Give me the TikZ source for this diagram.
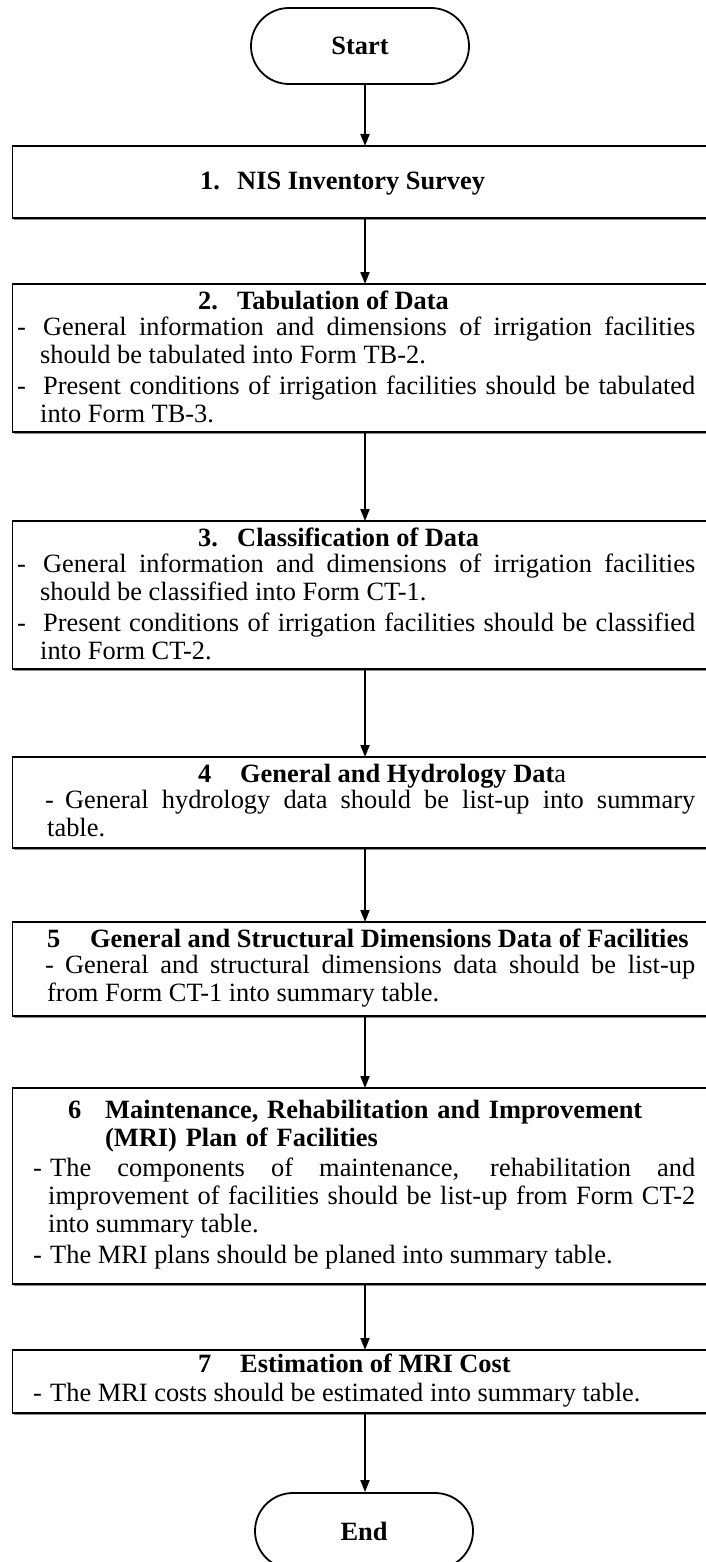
\documentclass[tikz,border=0pt]{standalone}
\usepackage{fontspec}
\setmainfont{Liberation Serif}
\usetikzlibrary{arrows.meta,shapes.misc,shadows}
\newcommand\dashpar[3]{\noindent\hangindent=#3\hangafter=1\hspace*{#1}\makebox[#2][l]{-}}
\begin{document}
\begin{tikzpicture}[x=1pt,y=-1pt,
  every node/.style={font=\fontsize{26.4pt}{28pt}\selectfont},
  stepbox/.style={draw,line width=1.8pt,rectangle,minimum width=712pt,inner sep=0pt,outer sep=0pt,anchor=north west,fill=white,
    drop shadow={shadow xshift=1.2pt,shadow yshift=-2.2pt,fill=black!45,opacity=1}},
  term/.style={draw,line width=1.8pt,rounded rectangle,minimum width=218pt,minimum height=76pt,inner sep=0pt,
    font=\fontsize{26.4pt}{28pt}\selectfont\bfseries},
  ttl/.style={anchor=base west,inner sep=0pt,font=\fontsize{26.4pt}{28pt}\selectfont\bfseries},
  body/.style={anchor=base west,inner sep=0pt,text width=678pt,align=justify,
    execute at begin node={\hyphenpenalty=10000\exhyphenpenalty=10000\tolerance=9999\parskip=3pt}},
  arr/.style={line width=1.8pt,-{Triangle[length=12pt,width=9pt]}}]
\useasboundingbox (0,0) rectangle (705,1562);
\coordinate (cx) at (365,0);

% boxes
\node[term] (start) at (360,46) {Start};
\node[stepbox,minimum height=72pt]  (b1) at (12.5,146) {};
\node[stepbox,minimum height=148pt] (b2) at (12.5,284) {};
\node[stepbox,minimum height=148pt] (b3) at (12.5,521) {};
\node[stepbox,minimum height=91pt]  (b4) at (12.5,757) {};
\node[stepbox,minimum height=94pt]  (b5) at (12.5,922) {};
\node[stepbox,minimum height=196pt] (b6) at (12.5,1088) {};
\node[stepbox,minimum height=63pt]  (b7) at (12.5,1350) {};
\node[term] (end) at (364,1531) {End};

% titles
\node[ttl] (t1) at (200,190) {\makebox[37pt][l]{1.}NIS Inventory Survey};
\node[ttl] (t2) at (198,309) {\makebox[39pt][l]{2.}Tabulation of Data};
\node[ttl] (t3) at (198,546) {\makebox[39pt][l]{3.}Classification of Data};
\node[ttl] (t4) at (198,782) {\makebox[42pt][l]{4}General and Hydrology Dat{\mdseries a}};
\node[ttl] (t5) at (47,947) {\makebox[43pt][l]{5}General and Structural Dimensions Data of Facilities};
\node[ttl,text width=620pt,align=left] (t6) at (68,1118)
  {\hangindent=37pt\hangafter=1\makebox[37pt][l]{6}Maintenance, Rehabilitation and Improvement\newline (MRI) Plan of Facilities\par};
\node[ttl] (t7) at (198,1372) {\makebox[42pt][l]{7}Estimation of MRI Cost};

% body texts
\node[body] (p2) at (17,335) {\dashpar{0pt}{26pt}{23pt}General information and dimensions of irrigation facilities\linebreak should be tabulated into Form TB-2.\par
  \dashpar{0pt}{26pt}{23pt}Present conditions of irrigation facilities should be tabulated\linebreak into Form TB-3.\par};
\node[body] (p3) at (17,572) {\dashpar{0pt}{26pt}{23pt}General information and dimensions of irrigation facilities\linebreak should be classified into Form CT-1.\par
  \dashpar{0pt}{26pt}{23pt}Present conditions of irrigation facilities should be classified\linebreak into Form CT-2.\par};
\node[body] (p4) at (17,808) {\dashpar{28pt}{20pt}{30pt}General hydrology data should be list-up into summary\linebreak table.\par};
\node[body] (p5) at (17,973) {\dashpar{28pt}{20pt}{30pt}General and structural dimensions data should be list-up\linebreak from Form CT-1 into summary table.\par};
\node[body] (p6) at (17,1176) {\dashpar{16pt}{17pt}{31pt}The components of maintenance, rehabilitation and\linebreak improvement of facilities should be list-up from Form CT-2\linebreak into summary table.\par
  \dashpar{16pt}{17pt}{31pt}The MRI plans should be planed into summary table.\par};
\node[body] (p7) at (17,1401) {\dashpar{16pt}{17pt}{31pt}The MRI costs should be estimated into summary table.\par};

% connectors
\draw[arr] (start.south -| cx) -- (b1.north -| cx);
\draw[arr] (b1.south -| cx) -- (b2.north -| cx);
\draw[arr] (b2.south -| cx) -- (b3.north -| cx);
\draw[arr] (b3.south -| cx) -- (b4.north -| cx);
\draw[arr] (b4.south -| cx) -- (b5.north -| cx);
\draw[arr] (b5.south -| cx) -- (b6.north -| cx);
\draw[arr] (b6.south -| cx) -- (b7.north -| cx);
\draw[arr] (b7.south -| cx) -- (end.north -| cx);
\end{tikzpicture}
\end{document}
